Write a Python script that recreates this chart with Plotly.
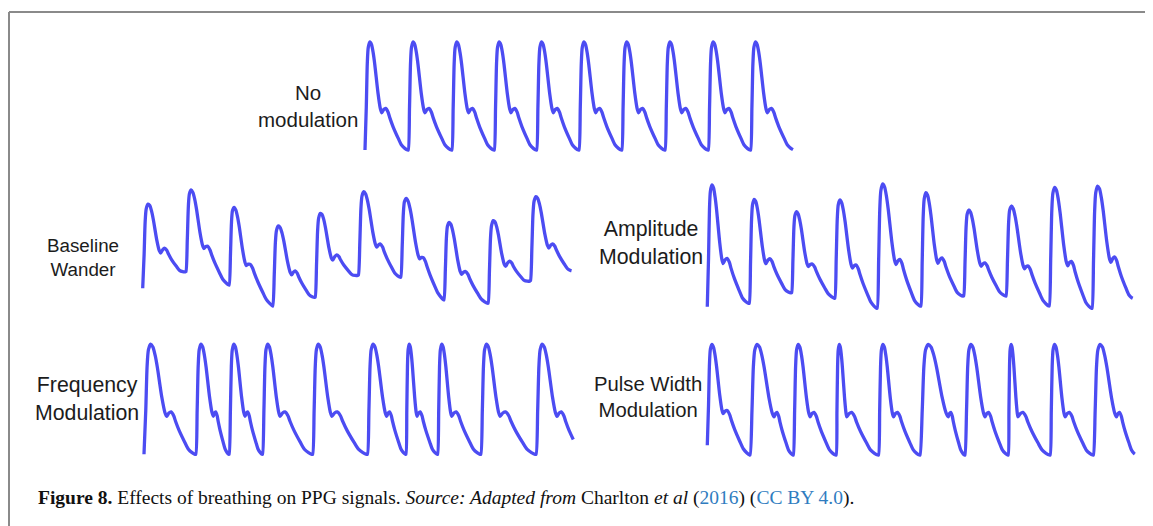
import plotly.graph_objects as go

# ---------------- data ----------------
# Pulse template: systolic part (onset -> dicrotic notch), time normalised to the notch time
SYS_T = [0.0, 0.078, 0.137, 0.196, 0.294, 0.392, 0.49, 0.588, 0.784, 0.922, 1.0]
SYS_Y = [0.0, 0.40, 0.80, 0.95, 1.0, 0.975, 0.90, 0.79, 0.52, 0.38, 0.345]
# diastolic part (notch -> next onset), time normalised to the remaining beat duration
DIA_T = [0.076, 0.152, 0.241, 0.304, 0.43, 0.62, 0.747, 0.873, 0.975]
DIA_Y = [0.375, 0.385, 0.35, 0.30, 0.215, 0.11, 0.046, 0.015, 0.0]

# Panel "No modulation": beat onsets (s, last = next onset), onset levels, peak levels, notch times (s)
NOMOD_ONSET = [0, 1.01, 2.03, 3.02, 4.01, 5.00, 6.00, 7.01, 8.02, 9.01, 10.03]
NOMOD_TROUGH = [0, 0, 0, 0, 0, 0, 0, 0, 0, 0, 0]
NOMOD_PEAK = [1.0, 1.0, 1.0, 1.0, 1.0, 1.0, 1.0, 1.0, 1.0, 1.0]
NOMOD_WIDTH = [0.39, 0.39, 0.39, 0.39, 0.39, 0.39, 0.39, 0.39, 0.39, 0.39]
NOMOD_END = 10.0

BW_ONSET = [0, 1.01, 2.02, 3.04, 4.03, 5.04, 6.03, 7.04, 8.07, 9.06, 10.07]
BW_TROUGH = [0.164, 0.318, 0.194, 0.0, 0.081, 0.287, 0.266, 0.056, 0.025, 0.234, 0.324]
BW_PEAK = [0.944, 1.074, 0.914, 0.741, 0.858, 1.058, 0.997, 0.775, 0.790, 1.012]
BW_WIDTH = [0.42, 0.42, 0.40, 0.44, 0.41, 0.43, 0.44, 0.41, 0.41, 0.43]
BW_END = 10.02

AM_ONSET = [0, 0.98, 1.97, 2.98, 3.97, 4.99, 5.99, 6.98, 7.99, 8.99, 9.99]
AM_TROUGH = [0.015, 0.046, 0.144, 0.093, 0.0, 0.021, 0.114, 0.114, 0.021, 0.0, 0.086]
AM_PEAK = [1.142, 1.009, 0.894, 1.003, 1.151, 1.07, 0.910, 0.947, 1.120, 1.132]
AM_WIDTH = [0.37, 0.39, 0.39, 0.41, 0.44, 0.40, 0.41, 0.43, 0.43, 0.44]
AM_END = 9.94

FM_ONSET = [0, 1.21, 1.99, 2.77, 3.94, 5.22, 6.12, 6.86, 7.87, 9.16, 10.31]
FM_TROUGH = [0, 0, 0, 0, 0, 0, 0, 0, 0, 0, 0]
FM_PEAK = [1.02, 1.02, 1.02, 1.02, 1.02, 1.02, 1.02, 1.02, 1.02, 1.02]
FM_WIDTH = [0.53, 0.41, 0.37, 0.41, 0.45, 0.45, 0.26, 0.33, 0.45, 0.49]
FM_END = 10.03

PWM_ONSET = [0, 1.0, 2.01, 3.01, 4.0, 4.97, 6.02, 7.03, 8.01, 9.02, 10.03]
PWM_TROUGH = [0.09, 0, 0, 0, 0, 0, 0, 0, 0, 0, 0]
PWM_PEAK = [1.025, 1.025, 1.025, 1.025, 1.025, 1.025, 1.025, 1.025, 1.025, 1.025]
PWM_WIDTH = [0.37, 0.56, 0.39, 0.25, 0.35, 0.66, 0.47, 0.23, 0.35, 0.54]
PWM_END = 9.99

LABELS = ["No<br>modulation", "Baseline<br>Wander", "Amplitude<br>Modulation",
          "Frequency<br>Modulation", "Pulse Width<br>Modulation"]

CAPTION = ("<b>Figure 8.</b> Effects of breathing on PPG signals. <i>Source: Adapted from</i> "
           "Charlton <i>et al</i> (<span style='color:#2f7cbf'>2016</span>) "
           "(<span style='color:#2f7cbf'>CC BY 4.0</span>).")

# ---------------- layout constants ----------------
OFF = 8                      # page body margin of the browser
W, H = 1153 - OFF, 526 - OFF
PX_PER_S = 42.8
PX_PER_U = 108.0
LINE_COLOR = "#4C4CF2"


def build(onset, trough, peak, width, end):
    xs, ys = [], []
    n = len(peak)
    for i in range(n):
        t0, t1 = onset[i], onset[i + 1]
        b0, b1 = trough[i], trough[i + 1]
        per = t1 - t0
        w = width[i]
        tp = SYS_T[4] * w
        amp = peak[i] - (b0 + (b1 - b0) * tp / per)
        pts = [(t0 + s * w, y) for s, y in zip(SYS_T, SYS_Y)]
        pts += [(t0 + w + s * (per - w), y) for s, y in zip(DIA_T, DIA_Y)]
        for t, y in pts:
            base = b0 + (b1 - b0) * (t - t0) / per
            xs.append(t)
            ys.append(base + amp * y)
    ox, oy = [], []
    for k, (t, y) in enumerate(zip(xs, ys)):
        if t <= end:
            ox.append(t)
            oy.append(y)
        else:
            tp_, yp_ = xs[k - 1], ys[k - 1]
            f = (end - tp_) / (t - tp_)
            ox.append(end)
            oy.append(yp_ + f * (y - yp_))
            break
    return ox, oy


panels = [
    (NOMOD_ONSET, NOMOD_TROUGH, NOMOD_PEAK, NOMOD_WIDTH, NOMOD_END),
    (BW_ONSET, BW_TROUGH, BW_PEAK, BW_WIDTH, BW_END),
    (AM_ONSET, AM_TROUGH, AM_PEAK, AM_WIDTH, AM_END),
    (FM_ONSET, FM_TROUGH, FM_PEAK, FM_WIDTH, FM_END),
    (PWM_ONSET, PWM_TROUGH, PWM_PEAK, PWM_WIDTH, PWM_END),
]
# screen-pixel origin (x of first onset, y of zero level) for each panel
origins = [(365, 150), (142.7, 306), (707.3, 308.3), (144, 454.3), (707.3, 455)]
label_pos = [(308, 106), (83, 258), (651, 243), (87, 398.5), (648, 396.5)]
label_size = [20.5, 18.8, 21.3, 21.3, 20.3]


def fx(px):
    return (px - OFF) / W


def fy(py):
    return 1 - (py - OFF) / H


fig = go.Figure()
layout = dict(width=W, height=H, margin=dict(l=0, r=0, t=0, b=0),
              paper_bgcolor="white", plot_bgcolor="rgba(0,0,0,0)", showlegend=False)
PADL, PADR, PADB, PADT = 8, 445, 8, 140
for i, (p, (x0, y0)) in enumerate(zip(panels, origins)):
    xs, ys = build(*p)
    sfx = "" if i == 0 else str(i + 1)
    fig.add_trace(go.Scatter(x=xs, y=ys, mode="lines",
                             line=dict(color=LINE_COLOR, width=3.3, shape="spline", smoothing=0.7),
                             xaxis="x" + sfx, yaxis="y" + sfx, hoverinfo="skip"))
    layout["xaxis" + sfx] = dict(domain=[fx(x0 - PADL), min(1, fx(x0 + PADR))],
                                 range=[-PADL / PX_PER_S, (min(W + OFF, x0 + PADR) - x0) / PX_PER_S],
                                 visible=False, anchor="y" + sfx, fixedrange=True)
    layout["yaxis" + sfx] = dict(domain=[fy(y0 + PADB), fy(y0 - PADT)],
                                 range=[-PADB / PX_PER_U, PADT / PX_PER_U],
                                 visible=False, anchor="x" + sfx, fixedrange=True)

annotations = []
for txt, (lx, ly), sz in zip(LABELS, label_pos, label_size):
    annotations.append(dict(text=txt, x=fx(lx), y=fy(ly), xref="paper", yref="paper",
                            xanchor="center", yanchor="middle", showarrow=False, align="center",
                            font=dict(family="Liberation Sans, Arial, sans-serif", size=sz,
                                      color="#1c1c1c")))
annotations.append(dict(text=CAPTION, x=fx(36), y=fy(498), xref="paper", yref="paper",
                        xanchor="left", yanchor="middle", showarrow=False, align="left",
                        font=dict(family="Liberation Serif, Times New Roman, serif", size=19.5,
                                  color="#111111")))
layout["annotations"] = annotations
layout["shapes"] = [
    dict(type="line", xref="paper", yref="paper", x0=fx(9), x1=1, y0=fy(12), y1=fy(12),
         line=dict(color="#8a8a8a", width=2)),
    dict(type="line", xref="paper", yref="paper", x0=fx(9), x1=fx(9), y0=0, y1=fy(12),
         line=dict(color="#8a8a8a", width=2)),
]
fig.update_layout(**layout)
fig.write_html("out.html", config={"displayModeBar": False})
